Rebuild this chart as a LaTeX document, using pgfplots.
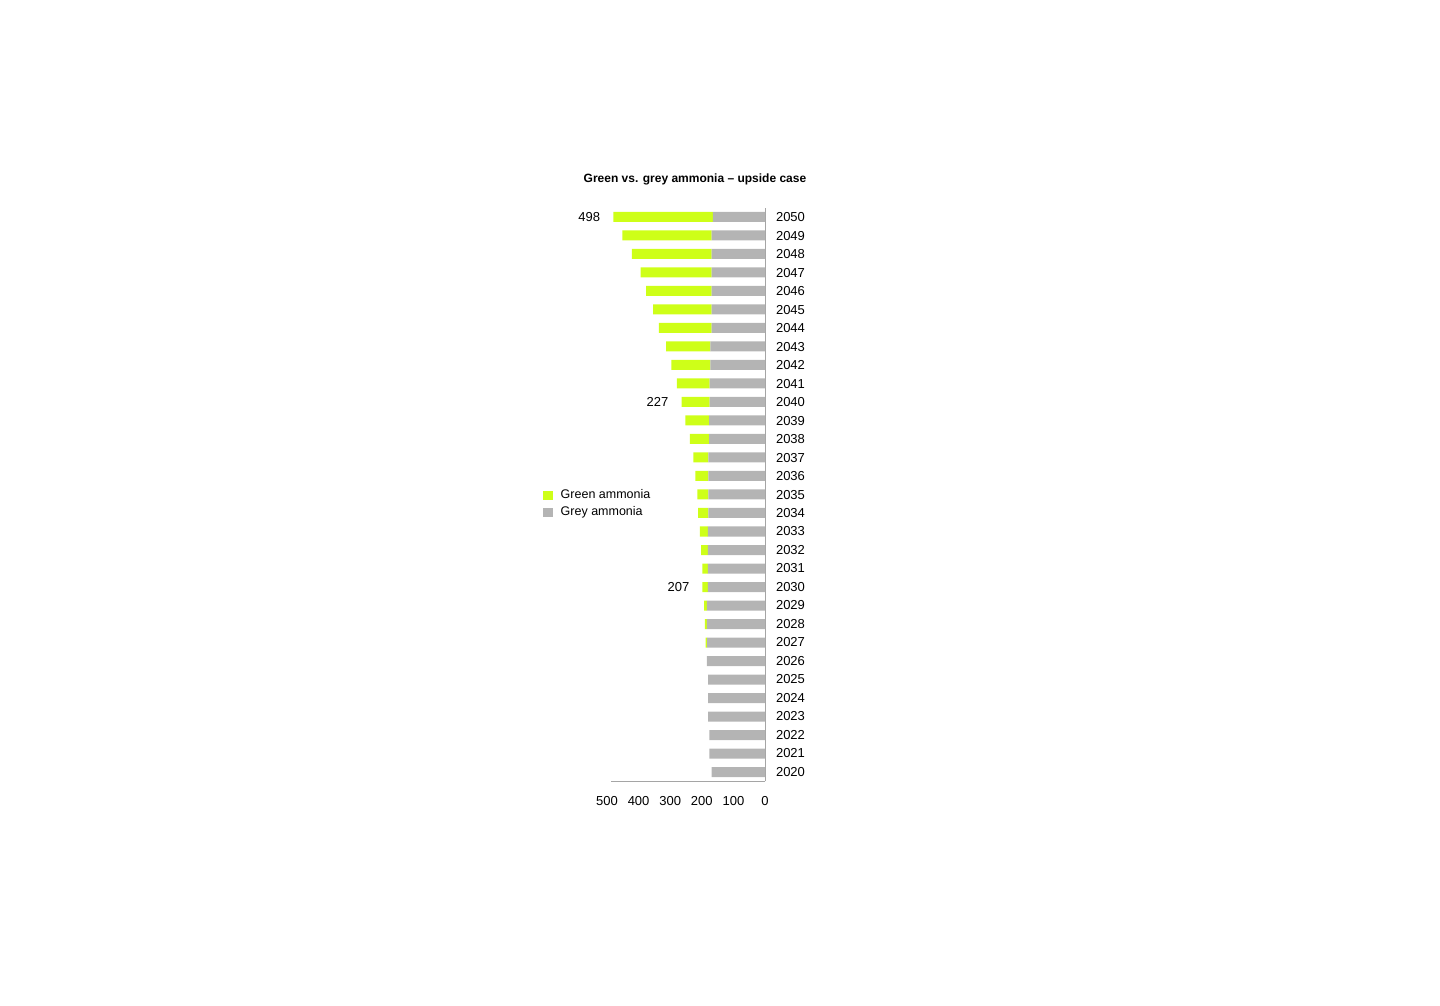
\documentclass[border=0pt]{standalone}
\usepackage{fontspec}
\setmainfont{Liberation Sans}
\usepackage{pgfplots}
\pgfplotsset{compat=1.18}
\definecolor{ammGreen}{RGB}{206,255,24}
\definecolor{ammGrey}{RGB}{180,180,180}
\definecolor{axGrey}{RGB}{165,165,165}

\pgfplotstableread{
year grey green
2020 169 0
2021 176 0
2022 176 0
2023 180 0
2024 180 0
2025 180 0
2026 184 0
2027 183 5
2028 184 6
2029 184 9
2030 181 17
2031 181 17
2032 181 21
2033 181 25
2034 179 33
2035 179 35
2036 179 41
2037 179 48
2038 177 61
2039 177 75
2040 175 89
2041 175 104
2042 173 123
2043 173 140
2044 169 167
2045 169 185
2046 169 207
2047 169 225
2048 169 252
2049 169 282
2050 165 315
}\ammonia

\begin{document}
\begin{tikzpicture}
\path[use as bounding box] (0pt,0pt) rectangle (1440pt,1005pt);
\node[font=\fontsize{12}{14}\selectfont\bfseries] at (695pt,826pt) {Green vs. grey ammonia – upside case};
\begin{axis}[
    at={(607pt,223.75pt)}, anchor=south west,
    scale only axis, width=158pt, height=573.5pt,
    xbar stacked, bar width=10pt,
    x dir=reverse,
    xmin=0, xmax=500, ymin=2019.5, ymax=2050.5,
    xtick={0,100,...,500}, ytick={2020,...,2050},
    yticklabel pos=right,
    major tick length=0pt,
    axis line style={draw=none},
    font=\fontsize{13}{15}\selectfont,
    /pgf/number format/assume math mode=true,
    /pgf/number format/1000 sep={},
    xticklabel style={yshift=-11.5pt},
    yticklabel style={xshift=7.5pt},
    clip=false,
    reverse legend,
    legend cell align=left,
    legend style={at={(axis description cs:-0.424,0.517)}, anchor=north west,
        draw=none, fill=none, font=\fontsize{12.5}{14}\selectfont,
        nodes={text height=9pt, text depth=3pt, inner sep=2.5pt},
        /tikz/every odd column/.append style={column sep=5pt}},
]
\addplot[fill=ammGrey, draw=none,
    legend image code/.code={\fill[ammGrey] (0pt,-4.5pt) rectangle (10pt,4.5pt);}]
    table[x=grey, y=year] {\ammonia};
\addlegendentry{Grey ammonia}
\addplot[fill=ammGreen, draw=none,
    legend image code/.code={\fill[ammGreen] (0pt,-4.5pt) rectangle (10pt,4.5pt);}]
    table[x=green, y=year] {\ammonia};
\addlegendentry{Green ammonia}
\draw[axGrey, line width=1pt] (axis cs:0,2019.5) -- (axis cs:0,2050.5);
\draw[axGrey, line width=1pt] (axis cs:487,2019.5) -- (axis cs:0,2019.5);
\node[anchor=east, inner sep=0pt, xshift=-13pt] at (axis cs:480,2050) {498};
\node[anchor=east, inner sep=0pt, xshift=-13pt] at (axis cs:264,2040) {227};
\node[anchor=east, inner sep=0pt, xshift=-13pt] at (axis cs:198,2030) {207};
\end{axis}
\end{tikzpicture}
\end{document}
